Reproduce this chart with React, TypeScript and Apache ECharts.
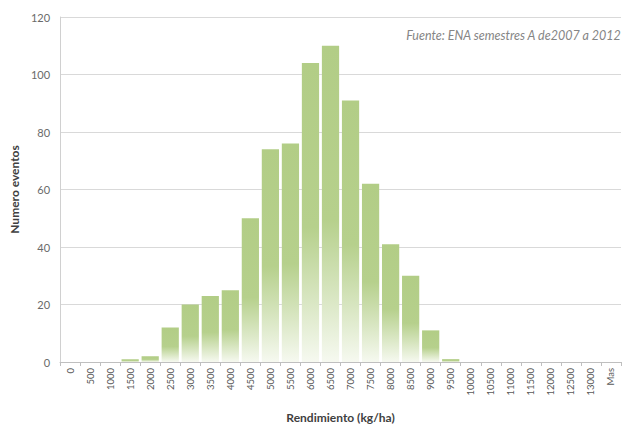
import React, { useEffect, useRef } from "react";
import * as echarts from "echarts";

// Yield classes (kg/ha) and number of events in each class
const categories = [
  "0", "500", "1000", "1500", "2000", "2500", "3000", "3500", "4000", "4500",
  "5000", "5500", "6000", "6500", "7000", "7500", "8000", "8500", "9000", "9500",
  "10000", "10500", "11000", "11500", "12000", "12500", "13000", "Mas",
];
const eventCounts = [
  0, 0, 0, 1, 2, 12, 20, 23, 25, 50,
  74, 76, 104, 110, 91, 62, 41, 30, 11, 1,
  0, 0, 0, 0, 0, 0, 0, 0,
];
const yTicks = [0, 20, 40, 60, 80, 100, 120];
const sourceNote = "Fuente: ENA semestres A de2007 a 2012";

const FONT = "Lato, 'Open Sans', sans-serif";

export default function App() {
  const ref = useRef<HTMLDivElement>(null);

  useEffect(() => {
    if (!ref.current) return;
    const chart = echarts.init(ref.current, null, { renderer: "svg" });
    const barFill = new echarts.graphic.LinearGradient(0, 0, 0, 1, [
      { offset: 0, color: "#b2cd86" },
      { offset: 0.55, color: "#b6d08c" },
      { offset: 1, color: "#f6f9f0" },
    ]);
    chart.setOption({
      animation: false,
      backgroundColor: "#ffffff",
      textStyle: { fontFamily: FONT },
      grid: { left: 58, right: 7, top: 17, bottom: 61, containLabel: false },
      graphic: [
        {
          type: "text",
          right: 6,
          top: 29,
          style: {
            text: sourceNote,
            fill: "#858585",
            font: `italic 12.5px ${FONT}`,
          },
        },
      ],
      xAxis: {
        type: "category",
        data: categories,
        name: "Rendimiento (kg/ha)",
        nameLocation: "middle",
        nameGap: 49,
        nameTextStyle: { color: "#404040", fontWeight: "bold", fontSize: 12, fontFamily: FONT },
        axisLine: { lineStyle: { color: "#bfbfbf" } },
        axisTick: { show: true, alignWithLabel: false, length: 4, lineStyle: { color: "#bfbfbf" } },
        axisLabel: {
          rotate: 90,
          interval: 0,
          color: "#595959",
          fontSize: 9.5,
          margin: 6,
          fontFamily: FONT,
        },
      },
      yAxis: {
        type: "value",
        min: yTicks[0],
        max: yTicks[yTicks.length - 1],
        interval: 20,
        name: "Numero eventos",
        nameLocation: "middle",
        nameGap: 34,
        nameTextStyle: { color: "#404040", fontWeight: "bold", fontSize: 12, fontFamily: FONT },
        axisLine: { show: true, lineStyle: { color: "#d0d0d0" } },
        axisTick: { show: false },
        axisLabel: { color: "#6a6a6a", fontSize: 11, margin: 10, fontFamily: FONT },
        splitLine: { lineStyle: { color: "#d9d9d9", width: 1 } },
      },
      series: [
        {
          type: "bar",
          data: eventCounts,
          barCategoryGap: "14%",
          itemStyle: { color: barFill },
        },
      ],
    });
    return () => chart.dispose();
  }, []);

  return (
    <div
      ref={ref}
      style={{ position: "absolute", left: 0, top: 0, width: 628, height: 428 }}
    />
  );
}
